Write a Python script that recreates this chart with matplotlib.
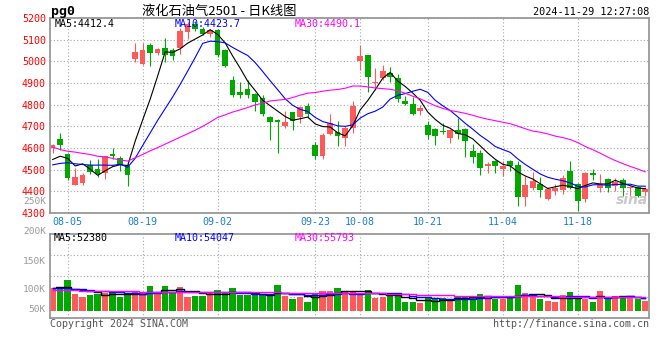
import numpy as np
import matplotlib.pyplot as plt

plt.rcParams['font.family'] = ['DejaVu Sans Mono', 'Noto Sans CJK SC']

# daily candles, 2024-08-01 .. 2024-11-29
opens = [4601, 4640, 4573, 4430, 4437, 4521, 4501, 4485, 4570, 4555,
         4515, 5011, 4989, 5074, 5040, 5063, 5053, 5063, 5135, 5170,
         5147, 5127, 5143, 5051, 4914, 4859, 4872, 4850, 4831, 4744,
         4730, 4700, 4764, 4743, 4796, 4616, 4562, 4665, 4674, 4646,
         4692, 5001, 5028, 4900, 4921, 4946, 4924, 4817, 4804, 4773,
         4708, 4689, 4680, 4646, 4685, 4689, 4588, 4578, 4518, 4540,
         4501, 4540, 4520, 4372, 4414, 4433, 4364, 4402, 4405, 4494,
         4436, 4364, 4486, 4417, 4456, 4425, 4453, 4414, 4420, 4398]
highs = [4620, 4668, 4575, 4509, 4483, 4544, 4547, 4564, 4601, 4562,
         4530, 5085, 5085, 5085, 5062, 5109, 5062, 5153, 5182, 5185,
         5158, 5150, 5148, 5055, 4932, 4906, 4914, 4852, 4845, 4746,
         4733, 4769, 4766, 4796, 4807, 4628, 4669, 4758, 4723, 4700,
         4817, 5077, 5030, 4967, 4982, 4975, 4940, 4840, 4837, 4799,
         4726, 4692, 4715, 4687, 4738, 4692, 4619, 4593, 4535, 4544,
         4540, 4544, 4540, 4471, 4489, 4468, 4420, 4433, 4475, 4540,
         4440, 4488, 4501, 4478, 4463, 4463, 4463, 4425, 4425, 4420]
lows = [4578, 4593, 4453, 4430, 4430, 4479, 4468, 4459, 4547, 4494,
        4425, 4998, 4982, 4979, 5031, 4998, 5005, 5036, 5105, 5140,
        5123, 5112, 5021, 4976, 4837, 4833, 4830, 4772, 4746, 4639,
        4578, 4692, 4685, 4715, 4738, 4547, 4547, 4662, 4608, 4608,
        4669, 4960, 4860, 4868, 4914, 4906, 4811, 4799, 4753, 4750,
        4643, 4616, 4665, 4624, 4643, 4558, 4532, 4475, 4486, 4486,
        4471, 4494, 4333, 4333, 4405, 4375, 4362, 4382, 4387, 4410,
        4311, 4352, 4451, 4399, 4395, 4402, 4379, 4379, 4375, 4379]
closes = [4616, 4616, 4460, 4465, 4477, 4491, 4479, 4561, 4561, 4521,
          4475, 5042, 5051, 5039, 5057, 5031, 5025, 5138, 5170, 5150,
          5127, 5143, 5028, 4979, 4845, 4845, 4845, 4810, 4756, 4720,
          4720, 4720, 4726, 4790, 4758, 4562, 4659, 4715, 4654, 4692,
          4796, 5024, 4929, 4906, 4955, 4929, 4825, 4804, 4758, 4784,
          4659, 4654, 4672, 4685, 4665, 4631, 4558, 4509, 4524, 4517,
          4517, 4517, 4375, 4428, 4448, 4405, 4410, 4414, 4463, 4417,
          4356, 4486, 4474, 4436, 4417, 4443, 4414, 4422, 4379, 4410]

ma5 = [4547, 4562, 4552, 4517, 4527, 4502, 4474, 4495, 4514, 4523,
       4519, 4632, 4730, 4826, 4933, 5044, 5041, 5058, 5084, 5103,
       5122, 5146, 5124, 5085, 5024, 4968, 4908, 4865, 4820, 4795,
       4770, 4745, 4728, 4735, 4743, 4711, 4699, 4697, 4670, 4656,
       4703, 4776, 4819, 4869, 4922, 4949, 4909, 4884, 4854, 4820,
       4766, 4732, 4705, 4691, 4667, 4661, 4642, 4610, 4577, 4548,
       4525, 4517, 4490, 4471, 4457, 4435, 4413, 4421, 4428, 4422,
       4412, 4427, 4439, 4434, 4434, 4451, 4437, 4426, 4415, 4412.4]
ma10 = [4522, 4529, 4532, 4527, 4524, 4521, 4521, 4521, 4520, 4525,
        4511, 4553, 4612, 4670, 4728, 4782, 4836, 4894, 4955, 5018,
        5083, 5093, 5091, 5085, 5064, 5045, 5027, 4994, 4953, 4910,
        4869, 4827, 4797, 4778, 4769, 4741, 4722, 4713, 4702, 4700,
        4707, 4738, 4758, 4770, 4789, 4826, 4843, 4851, 4862, 4871,
        4857, 4820, 4795, 4773, 4744, 4714, 4687, 4658, 4634, 4607,
        4593, 4580, 4550, 4524, 4502, 4480, 4465, 4456, 4449, 4439,
        4423, 4420, 4430, 4431, 4428, 4432, 4432, 4433, 4424, 4423.7]
ma30 = [4604, 4593, 4585, 4581, 4575, 4570, 4562, 4559, 4552, 4544,
        4540, 4555, 4570, 4587, 4602, 4618, 4634, 4650, 4666, 4682,
        4700, 4720, 4741, 4753, 4766, 4776, 4787, 4799, 4807, 4817,
        4821, 4824, 4833, 4844, 4853, 4856, 4862, 4867, 4870, 4876,
        4886, 4886, 4882, 4877, 4874, 4871, 4864, 4853, 4839, 4827,
        4811, 4795, 4783, 4773, 4767, 4760, 4751, 4741, 4733, 4726,
        4719, 4712, 4701, 4689, 4678, 4673, 4665, 4655, 4648, 4639,
        4625, 4607, 4592, 4576, 4558, 4542, 4528, 4515, 4503, 4490.1]

# volume, thousands of lots
volumes = [91, 87, 124, 68, 57, 64, 68, 71, 73, 57,
           64, 80, 71, 100, 68, 100, 77, 96, 57, 61,
           61, 71, 84, 71, 92, 64, 64, 64, 64, 64,
           104, 60, 48, 55, 37, 72, 81, 81, 93, 77,
           75, 67, 84, 53, 57, 60, 64, 37, 37, 31,
           51, 48, 53, 47, 57, 60, 55, 68, 57, 48,
           48, 51, 104, 73, 64, 48, 40, 37, 64, 77,
           48, 48, 37, 81, 57, 61, 60, 51, 48, 40]
vol_ma5 = [93, 97, 97, 89, 85.4, 80, 76.2, 65.6, 66.6, 66.6,
           66.6, 69, 69, 74.4, 76.6, 83.8, 83.2, 88.2, 79.6, 78.2,
           70.4, 69.2, 66.8, 69.6, 75.8, 76.4, 75, 71, 69.6, 64,
           72, 71.2, 68, 66.2, 60.8, 54.4, 58.6, 65.2, 72.8, 80.8,
           81.4, 78.6, 79.2, 71.2, 67.2, 64.2, 63.6, 54.2, 51, 45.8,
           44, 40.8, 44, 46, 51.2, 53, 54.4, 57.4, 59.4, 57.6,
           55.2, 54.4, 61.6, 64.8, 68, 68, 65.8, 52.4, 50.6, 53.2,
           53.2, 54.8, 54.8, 58.2, 54.2, 56.8, 59.2, 62, 55.4, 52.4]
vol_ma10 = [93, 93, 93, 88, 87, 86, 82, 80, 78, 76,
            73.3, 72.6, 67.3, 70.5, 71.6, 75.2, 76.1, 78.6, 77, 77.4,
            77.1, 76.2, 77.5, 74.6, 77, 73.4, 72.1, 68.9, 69.6, 69.9,
            74.2, 73.1, 69.5, 67.9, 62.4, 63.2, 64.9, 66.6, 69.5, 70.8,
            67.9, 68.6, 72.2, 72, 74, 72.8, 71.1, 66.7, 61.1, 56.5,
            54.1, 52.2, 49.1, 48.5, 48.5, 48.5, 47.6, 50.7, 52.7, 54.4,
            54.1, 54.4, 59.5, 62.1, 62.8, 61.6, 60.1, 57, 57.7, 60.6,
            60.6, 60.3, 53.6, 54.4, 53.7, 55, 57, 58.4, 56.8, 54.0]
vol_ma30 = [84, 84, 83, 83, 82, 82, 81, 81, 80, 80,
            79, 79, 78, 78, 77, 77, 77, 76, 76, 76,
            76, 75, 75, 75, 75, 75, 75, 75, 75, 74.4,
            74.9, 74, 71.4, 71, 70.3, 70.6, 71, 71.4, 72, 72.7,
            73.1, 72.6, 73.1, 71.5, 71.1, 69.8, 69.4, 67.4, 66.7, 65.7,
            65.4, 64.6, 63.6, 62.8, 61.6, 61.5, 61.2, 61.3, 61.1, 60.6,
            58.7, 58.4, 60.3, 60.9, 61.8, 61, 59.6, 58.1, 57.2, 57.2,
            56.3, 55.6, 54.1, 55, 55, 55, 54.9, 55.4, 55.7, 55.8]

tick_pos = [2, 12, 22, 35, 41, 50, 60, 70]
tick_labels = ['08-05', '08-19', '09-02', '09-23', '10-08', '10-21', '11-04', '11-18']
price_ticks = [4300, 4400, 4500, 4600, 4700, 4800, 4900, 5000, 5100, 5200]

RED = '#ff5a5a'
GREEN = '#00a800'
GRID = '#a8a8a8'
FRAME = '#999999'
W, H = 660, 360


def px(x, y):
    return x / W, 1 - y / H


def style_axes(a):
    for s in a.spines.values():
        s.set_color(FRAME)
        s.set_linewidth(1.3)
    a.tick_params(length=0)
    a.grid(True, color=GRID, linestyle=(0, (1, 2)), linewidth=0.8)
    a.set_axisbelow(True)


fig = plt.figure(figsize=(W / 100, H / 100), dpi=100)
ax = fig.add_axes([50 / W, 1 - 213 / H, 599 / W, 195 / H])
axv = fig.add_axes([50 / W, 1 - 318 / H, 599 / W, 84 / H])

x = np.arange(len(closes))
o = np.array(opens)
c = np.array(closes)
colors = np.where(c >= o, RED, GREEN)

# candles
ax.vlines(x, lows, highs, colors=colors, linewidth=0.8, zorder=2)
body_lo = np.minimum(o, c)
body_h = np.maximum(np.abs(c - o), 3)
ax.bar(x, body_h, 0.74, bottom=body_lo, color=colors, linewidth=0, zorder=2)
ax.plot(x, ma5, color='black', lw=0.8, zorder=3)
ax.plot(x, ma10, color='#0000ff', lw=0.8, zorder=3)
ax.plot(x, ma30, color='#ff00ff', lw=0.8, zorder=3)

ax.set_xlim(-0.36, 79.5)
ax.set_ylim(4300, 5200)
ax.set_yticks(price_ticks)
ax.set_yticklabels([str(t) for t in price_ticks], color='#ff0000', fontsize=7.2)
ax.set_xticks(tick_pos)
ax.set_xticklabels(tick_labels, color='#1a7fd0', fontsize=7.2)
ax.tick_params(axis='y', pad=3)
ax.tick_params(axis='x', pad=3)
style_axes(ax)

# volume
axv.bar(x, volumes, 0.86, color=colors, linewidth=0, zorder=2)
axv.plot(x, vol_ma5, color='black', lw=1.0, drawstyle='steps-mid', zorder=3)
axv.plot(x, vol_ma10, color='#0000ff', lw=1.0, drawstyle='steps-mid', zorder=3)
axv.plot(x, vol_ma30, color='#ff00ff', lw=1.0, drawstyle='steps-mid', zorder=3)
axv.set_xlim(-0.36, 79.5)
vlim = (-28, 308)
axv.set_ylim(*vlim)
axv.set_yticks(np.linspace(vlim[0], vlim[1], 5)[1:-1])
axv.set_yticklabels([])
axv.set_xticks(tick_pos)
axv.set_xticklabels([])
style_axes(axv)

# header
fig.text(*px(51, 11), 'pg0', fontsize=9.5, weight='bold', va='center', ha='left')
fig.text(*px(219, 11), '液化石油气2501 - 日K线图', fontsize=9.5, va='center', ha='center',
         family=['Noto Sans CJK SC', 'DejaVu Sans'])
fig.text(*px(649, 12), '2024-11-29 12:27:08', fontsize=7.3, va='center', ha='right')

# moving average legends
fig.text(*px(55, 24), 'MA5:4412.4', fontsize=7.2, va='center', color='black')
fig.text(*px(175, 24), 'MA10:4423.7', fontsize=7.2, va='center', color='#0000ff')
fig.text(*px(295, 24), 'MA30:4490.1', fontsize=7.2, va='center', color='#ff00ff')
fig.text(*px(54, 238), 'MA5:52380', fontsize=7.2, va='center', color='black')
fig.text(*px(175, 238), 'MA10:54047', fontsize=7.2, va='center', color='#0000ff')
fig.text(*px(295, 238), 'MA30:55793', fontsize=7.2, va='center', color='#ff00ff')

# volume axis labels
for label, yy in [('250K', 201), ('200K', 231), ('150K', 261), ('100K', 290), ('50K', 310)]:
    fig.text(*px(46, yy), label, fontsize=6.8, va='center', ha='right', color='#999999')

fig.text(*px(632, 200), 'sina', fontsize=10, style='italic', weight='bold', va='center',
         ha='center', color='#c8c8c8', family='DejaVu Sans')

# footer
fig.text(*px(50, 324), 'Copyright 2024 SINA.COM', fontsize=7.2, va='center', ha='left', color='#555555')
fig.text(*px(649, 324), 'http://finance.sina.com.cn', fontsize=7.2, va='center', ha='right', color='#555555')

fig.savefig('out.png', dpi=100)
